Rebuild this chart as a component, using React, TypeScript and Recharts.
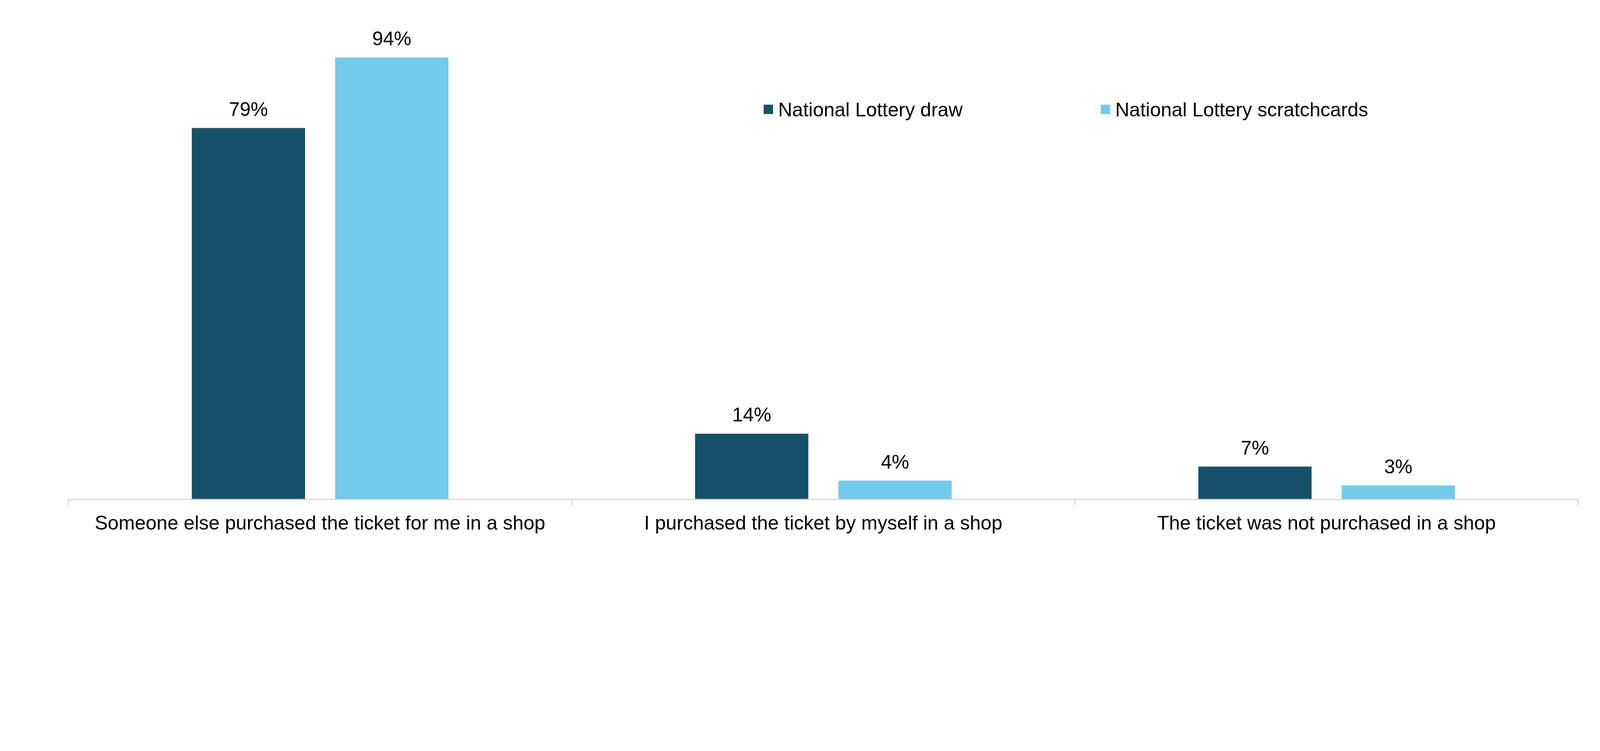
import React from 'react';
import { BarChart, Bar, XAxis, YAxis, LabelList, Legend } from 'recharts';

const categories = [
  'Someone else purchased the ticket for me in a shop',
  'I purchased the ticket by myself in a shop',
  'The ticket was not purchased in a shop',
];
const drawValues = [79, 14, 7];
const scratchValues = [94, 4, 3];
const seriesNames = ['National Lottery draw', 'National Lottery scratchcards'];
const seriesColors = ['#155169', '#72CBEB'];

const data = categories.map((c, i) => ({
  category: c,
  draw: drawValues[i],
  scratch: scratchValues[i],
}));

const W = 4130;
const H = 1900;
const MARGIN = { top: 67, right: 98, bottom: 529, left: 167 };
const PLOT_W = W - MARGIN.left - MARGIN.right;
const BAND = PLOT_W / categories.length;
const FONT = '"Liberation Sans", Arial, sans-serif';

const CategoryTick = (props: any) => {
  const { x, y, payload, index } = props;
  const half = BAND / 2;
  return (
    <g>
      <line x1={x - half} x2={x - half} y1={y} y2={y + 15} stroke="#D9D9D9" strokeWidth={3} />
      {index === categories.length - 1 && (
        <line x1={x + half} x2={x + half} y1={y} y2={y + 15} stroke="#D9D9D9" strokeWidth={3} />
      )}
      <text x={x} y={y + 77} textAnchor="middle" fontSize={50} fontFamily={FONT} fill="#000">
        {payload.value}
      </text>
    </g>
  );
};

const LegendContent = (props: any) => {
  const payload = props.payload || [];
  const starts = [1947, 2810];
  return (
    <svg width={W} height={400} style={{ display: 'block' }}>
      {payload.map((p: any, i: number) => (
        <g key={i}>
          <rect x={starts[i]} y={260} width={24} height={24} fill={p.color} />
          <text x={starts[i] + 37} y={290} fontSize={50} fontFamily={FONT} fill="#000">
            {p.value}
          </text>
        </g>
      ))}
    </svg>
  );
};

export default function App() {
  return (
    <div style={{ width: W, height: H, background: '#fff' }}>
      <BarChart
        width={W}
        height={H}
        data={data}
        margin={MARGIN}
        barCategoryGap={316}
        barGap={77}
      >
        <XAxis
          dataKey="category"
          axisLine={{ stroke: '#D9D9D9', strokeWidth: 3 }}
          tickLine={false}
          tickSize={0}
          tickMargin={0}
          height={100}
          interval={0}
          tick={<CategoryTick />}
        />
        <YAxis hide domain={[0, 100]} />
        <Legend
          layout="horizontal"
          verticalAlign="middle"
          align="center"
          wrapperStyle={{ top: 0, left: 0, width: W, height: 400 }}
          content={<LegendContent />}
        />
        <Bar dataKey="draw" name={seriesNames[0]} fill={seriesColors[0]} isAnimationActive={false}>
          <LabelList
            dataKey="draw"
            position="top"
            offset={31}
            formatter={(v: any) => `${v}%`}
            fontSize={50}
            fontFamily={FONT}
            fill="#000"
          />
        </Bar>
        <Bar dataKey="scratch" name={seriesNames[1]} fill={seriesColors[1]} isAnimationActive={false}>
          <LabelList
            dataKey="scratch"
            position="top"
            offset={31}
            formatter={(v: any) => `${v}%`}
            fontSize={50}
            fontFamily={FONT}
            fill="#000"
          />
        </Bar>
      </BarChart>
    </div>
  );
}
